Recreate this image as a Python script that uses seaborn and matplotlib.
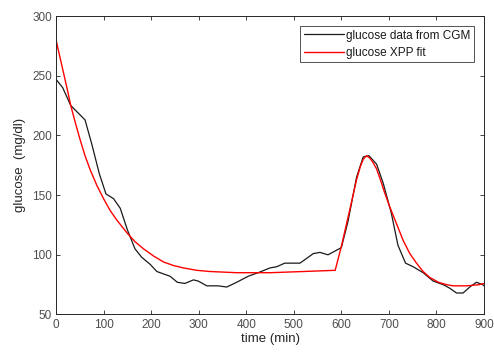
import matplotlib
matplotlib.use("Agg")
import matplotlib.pyplot as plt
import seaborn as sns
import pandas as pd

# CGM data (time in min, glucose mg/dl)
cgm_t = [0, 14, 31, 61, 75, 91, 105, 121, 135, 150, 166, 180, 198, 212, 226, 240,
         255, 271, 289, 299, 317, 341, 359, 380, 404, 425, 450, 464, 481, 513, 541,
         555, 572, 600, 614, 632, 646, 658, 674, 688, 705, 719, 735, 751, 772, 793,
         814, 828, 842, 856, 870, 884, 897, 900]
cgm_g = [247, 240, 225, 213, 193, 168, 151, 147, 139, 121, 105, 98, 92, 86, 84, 82,
         77, 76, 79, 78, 74, 74, 73, 77, 82, 85, 89, 90, 93, 93, 101,
         102, 100, 106, 128, 165, 182, 183, 176, 160, 135, 108, 93, 90, 85, 78,
         75, 72, 68, 68, 73, 77, 75, 74]

# XPP fit
fit_t = [0, 8, 16, 24, 31, 41, 51, 61, 72, 86, 100, 114, 128, 140, 150, 166, 184, 205,
         226, 247, 268, 296, 324, 352, 380, 450, 520, 587, 600, 619, 632, 640, 646, 653,
         660, 667, 674, 682, 691, 700, 709, 720, 730, 744, 758, 772, 786, 804, 821,
         835, 849, 863, 877, 890, 900]
fit_g = [280, 266, 252, 238, 225, 210, 196, 183, 171, 158, 147, 137, 129, 123, 118, 111,
         105, 99, 94, 91, 89, 87, 86, 85.5, 85, 85, 86, 87, 107, 140, 163, 174, 180, 183,
         181, 177, 172, 163, 152, 142, 133, 122, 112, 101, 93, 86, 81, 77, 75,
         74, 74, 74, 74.5, 75, 76]

df_cgm = pd.DataFrame({"t": cgm_t, "g": cgm_g})
df_fit = pd.DataFrame({"t": fit_t, "g": fit_g})

sns.set_style("white")
plt.rcParams["font.family"] = ["Liberation Sans", "DejaVu Sans"]

fig = plt.figure(figsize=(4.94, 3.56), dpi=100)
ax = fig.add_axes([0.1134, 0.1166, 0.8664, 0.8384])

sns.lineplot(data=df_cgm, x="t", y="g", ax=ax, color="#1a1a1a", linewidth=0.9,
             label="glucose data from CGM", sort=False)
sns.lineplot(data=df_fit, x="t", y="g", ax=ax, color="#ff0000", linewidth=1.0,
             label="glucose XPP fit", sort=False)

axc = "#262626"
ax.set_xlim(0, 900)
ax.set_ylim(50, 300)
ax.set_xticks(range(0, 901, 100))
ax.set_yticks(range(50, 301, 50))
ax.tick_params(direction="in", length=3, width=0.6, colors=axc, labelsize=8.5,
               top=True, right=True, bottom=True, left=True,
               labelcolor="#4d4d4d", pad=3)
for s in ax.spines.values():
    s.set_visible(True)
    s.set_color(axc)
    s.set_linewidth(0.7)
ax.set_xlabel("time (min)", fontsize=9.5, color="#262626", labelpad=2)
ax.set_ylabel("glucose  (mg/dl)", fontsize=9.5, color="#262626", labelpad=4)

leg = ax.legend(loc="upper right", fontsize=8.5, frameon=True, fancybox=False,
                edgecolor=axc, borderpad=0.3, handlelength=3.4, handletextpad=0.2,
                labelspacing=0.45, borderaxespad=0.85)
leg.get_frame().set_linewidth(0.7)
for txt in leg.get_texts():
    txt.set_color("#1a1a1a")

fig.savefig("out.png", dpi=100)
